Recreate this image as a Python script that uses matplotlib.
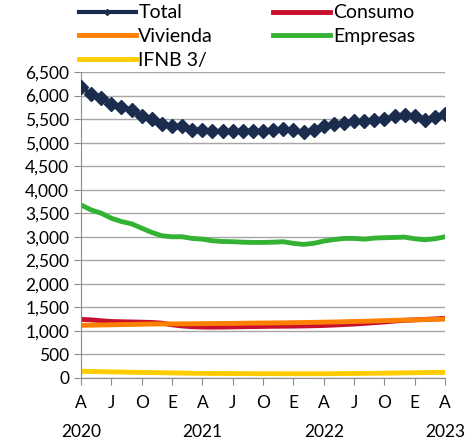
import matplotlib.pyplot as plt
import numpy as np

plt.rcParams['font.family'] = ['Lato', 'DejaVu Sans']

# monthly, abril 2020 - abril 2023
total = [6175, 6035, 5944, 5817, 5754, 5697, 5570, 5500, 5394, 5345, 5359, 5275, 5275,
         5254, 5240, 5254, 5254, 5254, 5240, 5275, 5289, 5261, 5218, 5275, 5345, 5394,
         5415, 5451, 5451, 5472, 5500, 5556, 5592, 5556, 5486, 5535, 5613]
consumo = [1245, 1235, 1215, 1200, 1195, 1190, 1185, 1180, 1165, 1130, 1105, 1090, 1082,
           1080, 1082, 1085, 1090, 1092, 1095, 1098, 1100, 1102, 1105, 1110, 1115, 1125,
           1135, 1145, 1160, 1175, 1190, 1210, 1225, 1235, 1245, 1255, 1268]
vivienda = [1118, 1122, 1126, 1130, 1134, 1138, 1142, 1146, 1148, 1150, 1150, 1152, 1154,
            1156, 1158, 1160, 1163, 1166, 1168, 1170, 1172, 1175, 1178, 1182, 1186, 1190,
            1195, 1200, 1205, 1212, 1218, 1225, 1230, 1235, 1240, 1245, 1250]
empresas = [3676, 3570, 3500, 3394, 3324, 3275, 3183, 3092, 3021, 3000, 3000, 2965, 2950,
            2915, 2900, 2895, 2885, 2880, 2880, 2885, 2895, 2860, 2838, 2860, 2908, 2940,
            2965, 2965, 2950, 2972, 2980, 2986, 2993, 2958, 2936, 2958, 3000]
ifnb = [142, 138, 134, 130, 126, 122, 118, 115, 112, 108, 104, 100, 98, 96, 95, 94, 93,
        92, 92, 92, 91, 90, 90, 90, 91, 92, 94, 96, 98, 100, 102, 105, 110, 112, 115, 118, 120]

tick_labels = ['A\n2020', 'J', 'O', 'E', 'A\n2021', 'J', 'O', 'E', 'A\n2022', 'J', 'O', 'E', 'A\n2023']

x = np.arange(len(total))

fig = plt.figure(figsize=(4.71, 4.46), dpi=100)
ax = fig.add_axes([0.172, 0.1525, 0.773, 0.686])

l_total, = ax.plot(x, total, color='#1B2D4F', lw=3, marker='D', ms=7.5, label='Total', zorder=5)
l_cons, = ax.plot(x, consumo, color='#C8102E', lw=3.5, label='Consumo')
l_viv, = ax.plot(x, vivienda, color='#FF7F00', lw=3.5, label='Vivienda')
l_emp, = ax.plot(x, empresas, color='#33B233', lw=3.5, label='Empresas')
l_ifnb, = ax.plot(x, ifnb, color='#FFCC00', lw=3.5, label='IFNB 3/')

ax.set_xlim(0, 36)
ax.set_ylim(0, 6500)
ax.set_yticks(np.arange(0, 6501, 500))
ax.set_yticklabels([f'{v:,}' for v in range(0, 6501, 500)])
ax.set_xticks(np.arange(0, 37, 3))
ax.set_xticklabels(tick_labels, linespacing=2.05)

ax.grid(axis='y', color='#A6A6A6', lw=1)
ax.set_axisbelow(True)
for s in ['top', 'right']:
    ax.spines[s].set_visible(False)
ax.spines['left'].set_color('#8C8C8C')
ax.spines['bottom'].set_color('#8C8C8C')
ax.tick_params(axis='both', colors='#8C8C8C', labelcolor='black', labelsize=12.5, length=5)
ax.tick_params(axis='x', pad=7)

# row order: Total, Consumo / Vivienda, Empresas / IFNB
handles = [l_total, l_viv, l_ifnb, l_cons, l_emp]
leg = fig.legend(handles, [h.get_label() for h in handles], loc='upper left',
                 bbox_to_anchor=(0.168, 0.99), ncol=2, frameon=False,
                 fontsize=14, handlelength=2.9, handletextpad=0.15, columnspacing=3.1,
                 labelspacing=0.35, borderaxespad=0, borderpad=0)
leg.legend_handles[0].set_markersize(3)

fig.savefig('out.png', dpi=100)
